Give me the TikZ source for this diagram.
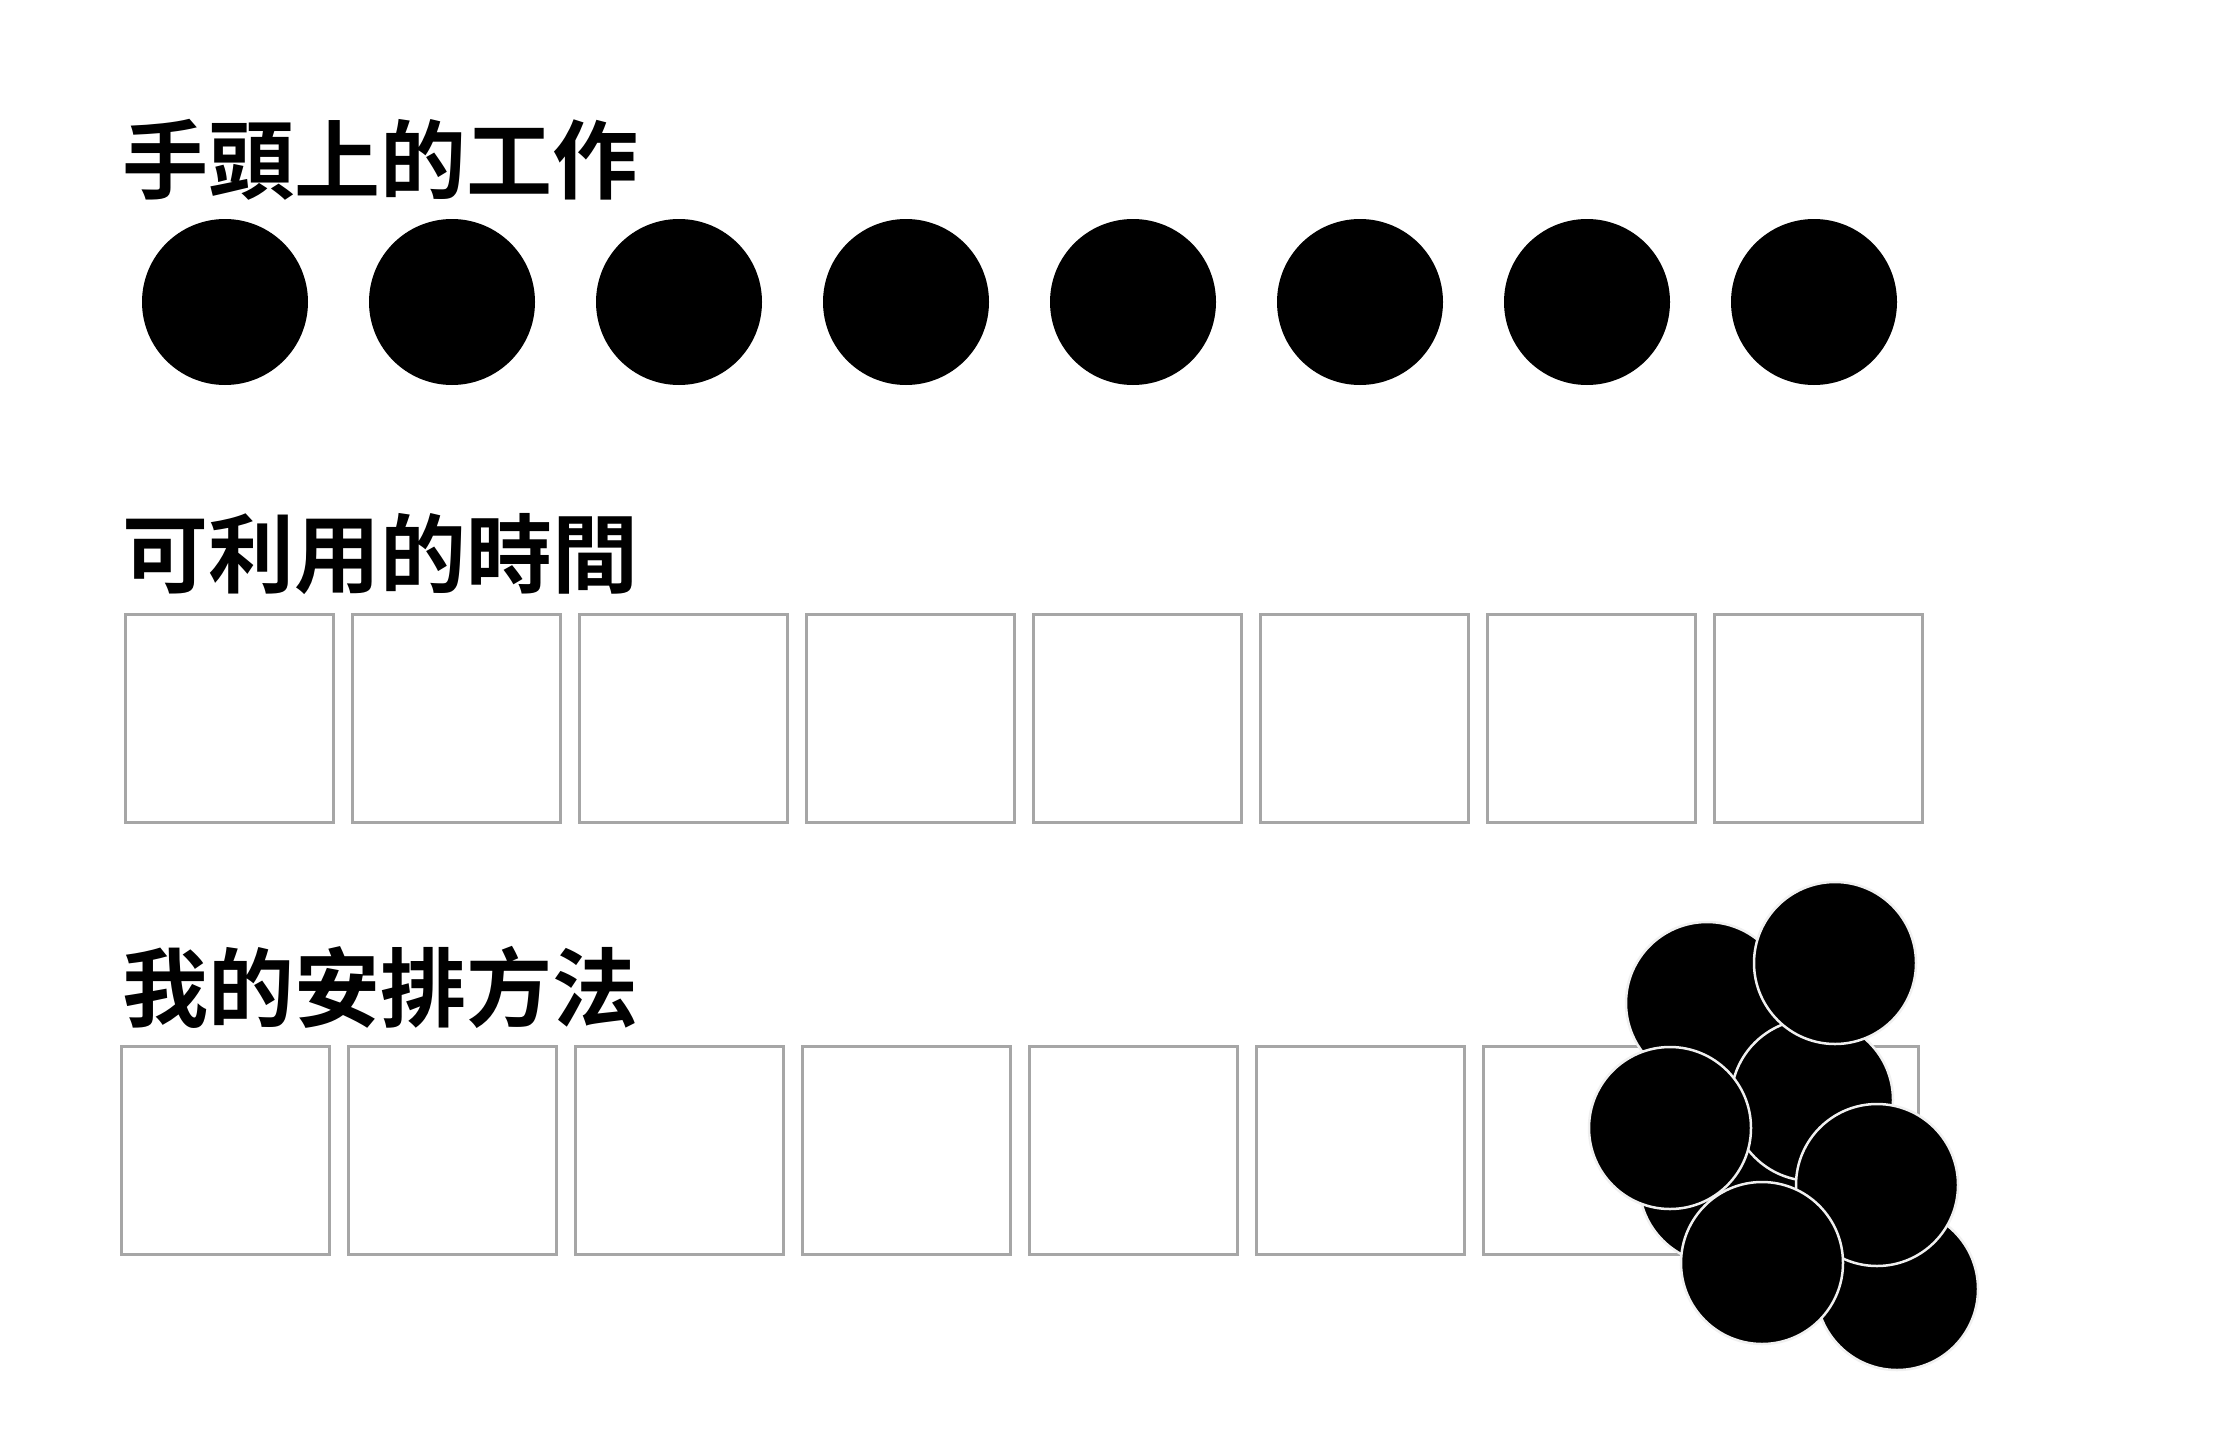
\documentclass[tikz,border=0pt]{standalone}
\usepackage{fontspec}
\newfontfamily\cjk{Noto Sans CJK TC Bold}
\begin{document}
\begin{tikzpicture}[x=1pt,y=-1pt,
  title/.style={anchor=west,inner sep=0pt,font=\cjk\fontsize{86}{100}\selectfont},
  task/.style={circle,fill=black,inner sep=0pt,minimum size=166pt},
  ctask/.style={circle,fill=black,draw=white!94!black,line width=2.5pt,inner sep=0pt,minimum size=162pt},
  slot/.style={draw=black!35,line width=3pt,fill=white,inner sep=0pt,minimum width=208pt,minimum height=208pt}]
\useasboundingbox[fill=white] (0,0) rectangle (2222,1440);
% titles
\node[title] (t1) at (122,160) {手頭上的工作};
\node[title] (t2) at (122,554) {可利用的時間};
\node[title] (t3) at (122,987) {我的安排方法};
% row 1: tasks
\foreach \k in {0,...,7}{
  \node[task] (c\k) at ({225+227*\k},302) {};
}
% row 2: time slots
\foreach \k in {0,...,7}{
  \node[slot] (s\k) at ({229+227*\k},718) {};
}
% row 3: arrangement slots
\foreach \k in {0,...,7}{
  \node[slot] (r\k) at ({225+227*\k},1150) {};
}
% cluster of tasks
\node[ctask] (h) at (1897,1289) {};
\node[ctask] (a) at (1707,1003) {};
\node[ctask] (e) at (1720,1183) {};
\node[ctask] (c) at (1812,1100) {};
\node[ctask] (b) at (1835,963) {};
\node[ctask] (d) at (1670,1128) {};
\node[ctask] (f) at (1877,1185) {};
\node[ctask] (g) at (1762,1263) {};
\end{tikzpicture}
\end{document}
